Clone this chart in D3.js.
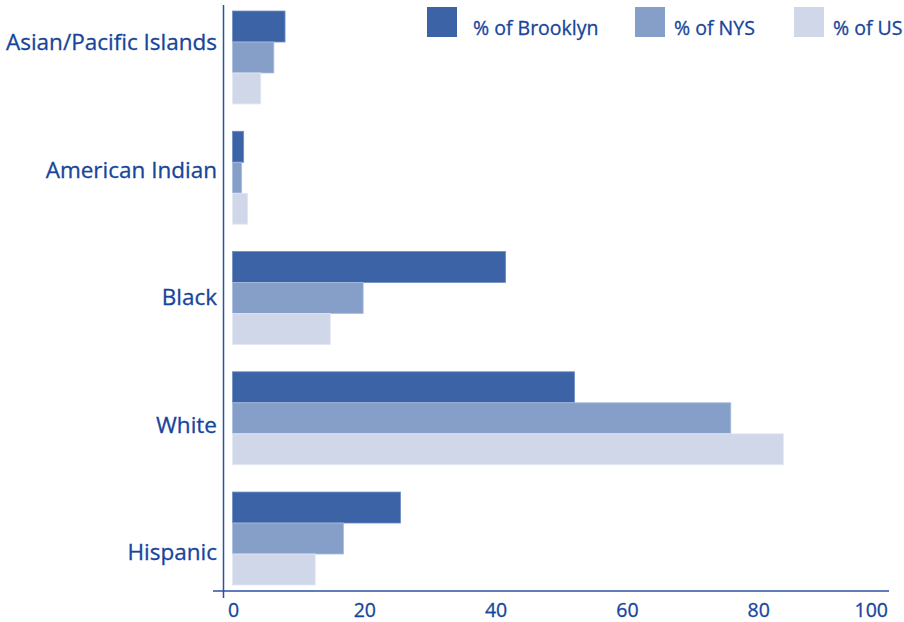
<!DOCTYPE html>
<html><head><meta charset="utf-8">
<script src="https://cdn.jsdelivr.net/npm/d3@7"></script>
<style>body{margin:0;background:#fff}svg{display:block}text{font-family:"Open Sans",sans-serif;fill:#17459b}</style>
</head><body><svg id="c" width="904" height="622"></svg>
<script>
const categories = ["Asian/Pacific Islands","American Indian","Black","White","Hispanic"];
const seriesNames = ["% of Brooklyn","% of NYS","% of US"];
const brooklyn = [8.0, 1.7, 41.6, 52.1, 25.6];
const nys = [6.3, 1.4, 19.9, 75.9, 16.9];
const us = [4.3, 2.3, 14.9, 83.9, 12.6];
const xTicks = [0,20,40,60,80,100];
const colors = ["#3b63a6","#869fc8","#cfd7e9"];
const strokes = ["#6f8fc4","#a9bde0","#e2e8f4"];

const series = [brooklyn, nys, us];
const svg = d3.select("#c");
const x = d3.scaleLinear().domain([0,100]).range([232.5, 889]);
const y = d3.scaleBand().domain(categories).range([11, 585]).paddingInner(0.227).paddingOuter(0);
const ySub = d3.scaleBand().domain(seriesNames).range([0, y.bandwidth()]);
const yLab = d3.scalePoint().domain(categories).range([50, 560]);

const g = svg.append("g");
categories.forEach((c, i) => {
  series.forEach((s, j) => {
    g.append("rect")
      .attr("x", x(0))
      .attr("y", y(c) + ySub(seriesNames[j]))
      .attr("width", x(s[i]) - x(0))
      .attr("height", ySub.bandwidth())
      .attr("fill", colors[j])
      .attr("stroke", strokes[j]).attr("stroke-width", 0.8);
  });
});

// axes lines
svg.append("line").attr("x1", 213).attr("x2", 889).attr("y1", 591).attr("y2", 591)
  .attr("stroke", "#2a52a0").attr("stroke-width", 1.5);
svg.append("line").attr("x1", 223.5).attr("x2", 223.5).attr("y1", 5).attr("y2", 598)
  .attr("stroke", "#2a52a0").attr("stroke-width", 1.5);

// category labels
svg.append("g").selectAll("text").data(categories).join("text")
  .attr("x", 217).attr("y", d => yLab(d))
  .attr("text-anchor", "end").attr("font-size", 22.5)
  .attr("stroke", "#17459b").attr("stroke-width", 0.3).text(d => d);

// x tick labels
svg.append("g").selectAll("text").data(xTicks).join("text")
  .attr("x", d => d === 100 ? x(d) - 1 : x(d) + 1)
  .attr("y", 617)
  .attr("text-anchor", d => d === 100 ? "end" : "middle")
  .attr("font-size", 19.5)
  .attr("stroke", "#17459b").attr("stroke-width", 0.3).text(d => d);

// legend
const legX = [427, 635, 794];
const legTextX = [473, 674, 833];
const lg = svg.append("g");
seriesNames.forEach((n, j) => {
  lg.append("rect").attr("x", legX[j]).attr("y", 7).attr("width", 30).attr("height", 30)
    .attr("fill", colors[j]);
  lg.append("text").attr("x", legTextX[j]).attr("y", 35).attr("font-size", 19.5)
    .attr("stroke", "#17459b").attr("stroke-width", 0.3).text(n);
});
</script></body></html>
